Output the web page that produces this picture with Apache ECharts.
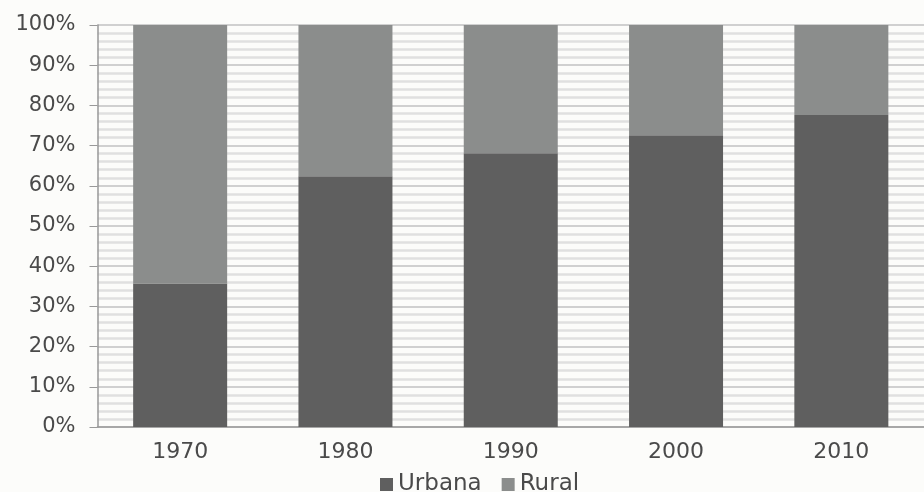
<!DOCTYPE html>
<html>
<head>
<meta charset="utf-8">
<script src="https://cdn.jsdelivr.net/npm/echarts@6/dist/echarts.min.js"></script>
<style>
html,body{margin:0;padding:0;background:#fcfcfa;}
#chart{width:924px;height:492px;filter:blur(0.5px);}
</style>
</head>
<body>
<div id="chart"></div>
<script>
var categories = ['1970', '1980', '1990', '2000', '2010'];
var urbana = [35.7, 62.4, 68.1, 72.6, 77.6];
var rural = [64.3, 37.6, 31.9, 27.4, 22.4];
var seriesNames = ['Urbana', 'Rural'];

var chart = echarts.init(document.getElementById('chart'), null, {renderer: 'canvas'});
var font = 'DejaVu Sans';
chart.setOption({
  backgroundColor: '#fcfcfa',
  animation: false,
  grid: {left: 97.5, right: -6, top: 25, bottom: 65},
  legend: {
    data: seriesNames,
    left: 375,
    top: 468,
    itemWidth: 13,
    itemHeight: 13,
    itemGap: 20,
    icon: 'rect',
    textStyle: {fontFamily: font, fontSize: 23, color: '#4a4a4a'}
  },
  xAxis: {
    type: 'category',
    data: categories,
    axisLine: {lineStyle: {color: '#999', width: 1.5}},
    axisTick: {show: false},
    axisLabel: {fontFamily: font, fontSize: 22, color: '#4a4a4a', margin: 14}
  },
  yAxis: {
    type: 'value',
    min: 0,
    max: 100,
    interval: 10,
    axisLine: {show: true, lineStyle: {color: '#999', width: 1.5}},
    axisTick: {show: true, length: 8, lineStyle: {color: '#999'}},
    axisLabel: {fontFamily: font, fontSize: 21, color: '#4a4a4a', margin: 22,
      formatter: function (v) { return v + '%'; }},
    splitLine: {show: true, lineStyle: {color: '#c2c2c2', width: 1.5}},
    minorTick: {show: false, splitNumber: 5},
    minorSplitLine: {show: true, lineStyle: {color: '#e0e0e0', width: 2.5}}
  },
  series: [
    {name: seriesNames[0], type: 'bar', stack: 'total', data: urbana, barWidth: 94,
      itemStyle: {color: '#5f5f5f'}},
    {name: seriesNames[1], type: 'bar', stack: 'total', data: rural, barWidth: 94,
      itemStyle: {color: '#8b8d8c'}}
  ]
});
</script>
</body>
</html>
